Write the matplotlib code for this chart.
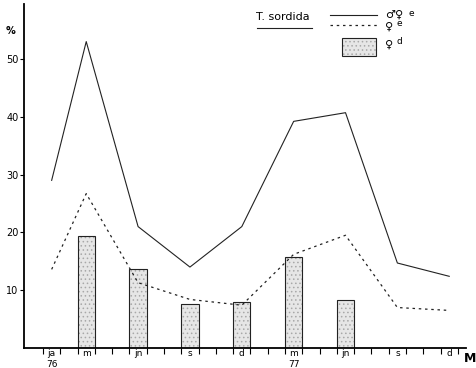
import numpy as np
import matplotlib
matplotlib.use("Agg")
import matplotlib.pyplot as plt
from matplotlib.lines import Line2D
from matplotlib.patches import Rectangle

plt.rcParams['font.family'] = ['DejaVu Sans']
plt.rcParams['hatch.linewidth'] = 0.6

# month index: jan 76 occupies [0, 1]
months = [0.5, 2.5, 5.5, 8.5, 11.5, 14.5, 17.5, 20.5, 23.5]
month_labels = ['ja\n76', 'm', 'jn', 's', 'd', 'm\n77', 'jn', 's', 'd']

male_female_e = [29, 53, 21, 14, 21, 39.2, 40.7, 14.7, 12.4]
female_e = [13.6, 26.7, 11.3, 8.4, 7.4, 16.2, 19.5, 7.0, 6.5]

bar_months = [2.5, 5.5, 8.5, 11.5, 14.5, 17.5]
female_d = [19.4, 13.6, 7.6, 8.0, 15.8, 8.3]

yticks = [10, 20, 30, 40, 50]

fig = plt.figure(figsize=(4.77, 3.68), dpi=100)
ax = fig.add_axes([24 / 477, 1 - 348 / 368, (466 - 24) / 477, (348 - 4) / 368])

ink = '#222222'
fill = '#e6e6e6'
dots = '#a8a8a8'

# stippled fill, then the outline on top
ax.bar(bar_months, female_d, width=1.0, color=fill, edgecolor=dots,
       linewidth=0, hatch='....', zorder=2)
ax.bar(bar_months, female_d, width=1.0, fill=False, edgecolor=ink,
       linewidth=0.8, zorder=2)
ax.plot(months, male_female_e, color=ink, linewidth=0.8, zorder=3)
ax.plot(months, female_e, color=ink, linewidth=0.9, linestyle=(0, (2, 3)), zorder=3)

ax.set_xlim(-1.1, 24.47)
ax.set_ylim(0, 59.5)

ax.spines['top'].set_visible(False)
ax.spines['right'].set_visible(False)
ax.spines['left'].set_linewidth(1.3)
ax.spines['bottom'].set_linewidth(1.3)

ax.set_yticks(yticks)
ax.set_yticklabels([str(v) for v in yticks], fontsize=7)
ax.tick_params(axis='y', length=3, width=0.8, pad=1)

ax.set_xticks(np.arange(0, 25))
ax.set_xticklabels([])
ax.tick_params(axis='x', which='major', length=4, width=0.8, direction='out')
ax.set_xticks(months, minor=True)
ax.set_xticklabels(month_labels, minor=True, fontsize=6.5, linespacing=1.3)
ax.tick_params(axis='x', which='minor', length=0, pad=1)

fig.text(11 / 477, 1 - 31 / 368, '%', fontsize=7, fontweight='bold', ha='center', va='center')
fig.text(476 / 477, 1 - 358 / 368, 'M', fontsize=9, fontweight='bold', ha='right', va='center')

# legend drawn by hand
fig.text(283 / 477, 1 - 17 / 368, 'T. sordida', fontsize=8, ha='center', va='center')
fig.add_artist(Line2D([257 / 477, 312 / 477], [1 - 28 / 368] * 2, color=ink, linewidth=0.8))
fig.add_artist(Line2D([330 / 477, 377 / 477], [1 - 15 / 368] * 2, color=ink, linewidth=0.8))
fig.add_artist(Line2D([330 / 477, 377 / 477], [1 - 25 / 368] * 2, color=ink, linewidth=0.9,
                      linestyle=(0, (2, 3))))
fig.add_artist(Rectangle((342 / 477, 1 - 56 / 368), 34 / 477, 18 / 368, facecolor=fill,
                         edgecolor=dots, linewidth=0, hatch='....', transform=fig.transFigure))
fig.add_artist(Rectangle((342 / 477, 1 - 56 / 368), 34 / 477, 18 / 368, fill=False,
                         edgecolor=ink, linewidth=0.8, transform=fig.transFigure))
fig.text(385 / 477, 1 - 15 / 368, '\u2642\u2640', fontsize=8, ha='left', va='center')
fig.text(409 / 477, 1 - 13 / 368, 'e', fontsize=6.5, ha='left', va='center')
fig.text(385 / 477, 1 - 27 / 368, '\u2640', fontsize=8, ha='left', va='center')
fig.text(397 / 477, 1 - 24 / 368, 'e', fontsize=6.5, ha='left', va='center')
fig.text(385 / 477, 1 - 45 / 368, '\u2640', fontsize=8, ha='left', va='center')
fig.text(397 / 477, 1 - 42 / 368, 'd', fontsize=6.5, ha='left', va='center')

fig.savefig('out.png', dpi=100)
